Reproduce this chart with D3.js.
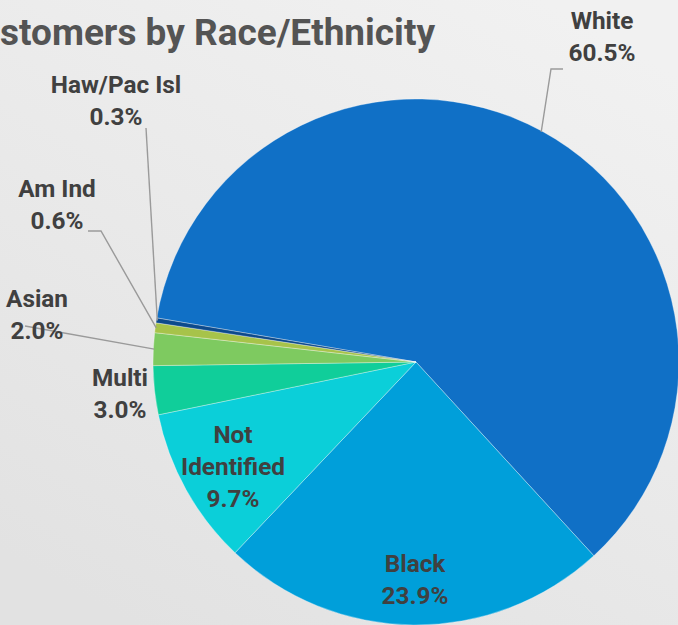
<!DOCTYPE html>
<html>
<head>
<meta charset="utf-8">
<script src="https://cdn.jsdelivr.net/npm/d3@7/dist/d3.min.js"></script>
<style>
  html, body { margin: 0; padding: 0; overflow: hidden; }
  svg { display: block; }
</style>
</head>
<body>
<script>
// Customer share by race/ethnicity (percent), clockwise from the top-left
const categories = ["White", "Black", "Not Identified", "Multi", "Asian", "Am Ind", "Haw/Pac Isl"];
const values = [60.5, 23.9, 9.7, 3.0, 2.0, 0.6, 0.3];
const labelLines = [["White"], ["Black"], ["Not", "Identified"], ["Multi"], ["Asian"], ["Am Ind"], ["Haw/Pac Isl"]];
const colors = ["#1070C6", "#009FDA", "#0BCFD9", "#10CE9A", "#7ECA60", "#A7C34A", "#0D4A8C"];
const titleText = "Customers by Race/Ethnicity";

const W = 678, H = 625;
const cx = 416, cy = 362, R = 263;
const startDeg = -80.35;

// Label anchors (centre x, first baseline y) and leader elbows
const labelPos = {
  "White": { x: 602, y: 29, elbow: [[563, 69], [551, 69]] },
  "Black": { x: 415, y: 572 },
  "Not Identified": { x: 233, y: 443 },
  "Multi": { x: 120, y: 386 },
  "Asian": { x: 37, y: 307, elbow: [[25, 326]] },
  "Am Ind": { x: 57, y: 197, elbow: [[88, 231], [101, 231]] },
  "Haw/Pac Isl": { x: 116, y: 93, elbow: [[146, 128]] }
};

const svg = d3.select("body").append("svg").attr("width", W).attr("height", H);

const defs = svg.append("defs");
const bg = defs.append("linearGradient").attr("id", "bg")
  .attr("x1", "0.8").attr("y1", "0").attr("x2", "0.2").attr("y2", "1");
bg.append("stop").attr("offset", "0").attr("stop-color", "#f1f1f1");
bg.append("stop").attr("offset", "1").attr("stop-color", "#e2e2e2");
svg.append("rect").attr("width", W).attr("height", H).attr("fill", "url(#bg)");

const FONT = "Roboto, 'Liberation Sans', sans-serif";

// Title, running off the left edge
const title = svg.append("text")
  .attr("font-family", FONT).attr("font-weight", 700).attr("font-size", 36)
  .attr("fill", "#545454").attr("y", 45).text(titleText);
{
  const probe = svg.append("text").attr("font-family", FONT).attr("font-weight", 700)
    .attr("font-size", 36).text(titleText.slice(2));
  const visW = probe.node().getComputedTextLength();
  const fullW = title.node().getComputedTextLength();
  probe.remove();
  const sx = 435 / visW;
  title.attr("textLength", fullW * sx).attr("lengthAdjust", "spacingAndGlyphs")
    .attr("x", 435 - fullW * sx);
}

const pie = d3.pie().sort(null).value(d => d)
  .startAngle(startDeg * Math.PI / 180)
  .endAngle(startDeg * Math.PI / 180 + 2 * Math.PI);
const arcs = pie(values);
const arc = d3.arc().innerRadius(0).outerRadius(R);

const g = svg.append("g").attr("transform", `translate(${cx},${cy})`);
g.selectAll("path").data(arcs).join("path")
  .attr("d", arc)
  .attr("fill", (d, i) => colors[i])
  .attr("stroke", "rgba(255,255,255,0.55)")
  .attr("stroke-width", 0.6);

// Leader lines from label elbows to the slice's outer edge
const leaders = svg.append("g");
arcs.forEach((a, i) => {
  const p = labelPos[categories[i]];
  if (!p.elbow) return;
  const mid = (a.startAngle + a.endAngle) / 2;
  const ex = cx + Math.sin(mid) * (R - 1);
  const ey = cy - Math.cos(mid) * (R - 1);
  const pts = p.elbow.concat([[ex, ey]]);
  leaders.append("path")
    .attr("d", d3.line()(pts))
    .attr("fill", "none").attr("stroke", "#9a9a9a").attr("stroke-width", 1.4);
});

// Labels, horizontally condensed
const labelFont = 24.5;
let sxLab;
{
  const probe = svg.append("text").attr("font-family", FONT).attr("font-weight", 700)
    .attr("font-size", labelFont).text("Identified");
  sxLab = 104 / probe.node().getComputedTextLength();
  probe.remove();
}
const lineH = 32;
arcs.forEach((a, i) => {
  const name = categories[i];
  const p = labelPos[name];
  const lines = labelLines[i].concat([d3.format(".1f")(values[i]) + "%"]);
  const t = svg.append("text")
    .attr("transform", `translate(${p.x},${p.y}) scale(${sxLab},1)`)
    .attr("font-family", FONT).attr("font-weight", 700).attr("font-size", labelFont)
    .attr("fill", "#404040").attr("text-anchor", "middle");
  lines.forEach((ln, k) => {
    t.append("tspan").attr("x", 0).attr("y", k * lineH).text(ln);
  });
});
</script>
</body>
</html>
